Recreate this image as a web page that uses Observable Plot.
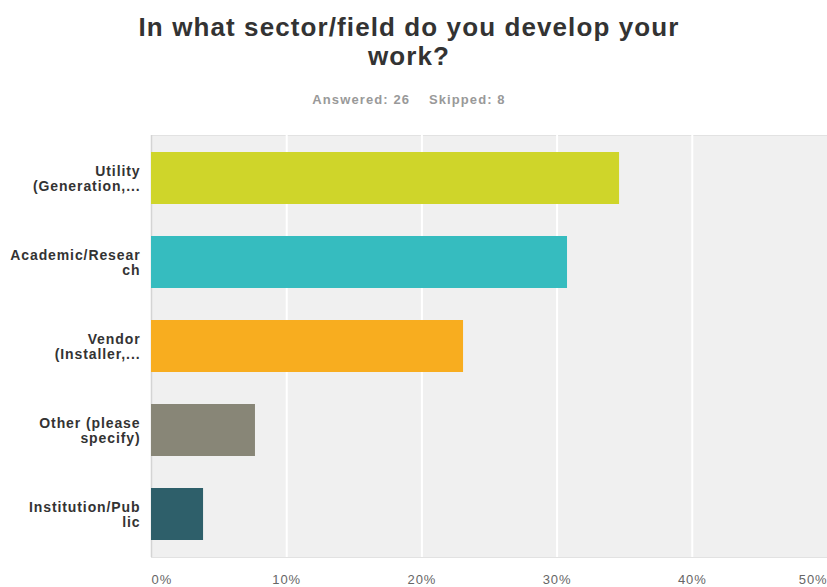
<!DOCTYPE html>
<html>
<head>
<meta charset="utf-8">
<script src="https://cdn.jsdelivr.net/npm/d3@7"></script>
<script src="https://cdn.jsdelivr.net/npm/@observablehq/plot@0.6"></script>
<style>
  html, body { margin: 0; padding: 0; background: #fff; }
  body { width: 827px; height: 587px; overflow: hidden; font-family: "Liberation Sans", Arial, sans-serif; }
  #title { position: absolute; left: 0; top: 13px; width: 818px; text-align: center; font-weight: bold; font-size: 26px; line-height: 29px; letter-spacing: 1.1px; color: #333; }
  #subtitle { position: absolute; left: 0; top: 92px; width: 818px; text-align: center; font-weight: bold; font-size: 13px; letter-spacing: 1.1px; color: #999; }
  #chart { position: absolute; left: 0; top: 120px; }
  #chart svg text { letter-spacing: 0.9px; }
</style>
</head>
<body>
<div id="title">In what sector/field do you develop your<br>work?</div>
<div id="subtitle">Answered: 26&nbsp;&nbsp;&nbsp;&nbsp;Skipped: 8</div>
<div id="chart"></div>
<script>
const categories = ["Utility", "Academic/Research", "Vendor", "Other", "Institution/Public"];
const categoryLabels = ["Utility\n(Generation,...", "Academic/Resear\nch", "Vendor\n(Installer,...", "Other (please\nspecify)", "Institution/Pub\nlic"];
const values = [34.62, 30.77, 23.08, 7.69, 3.85];
const tickValues = [0, 10, 20, 30, 40, 50];
const tickLabels = ["0%", "10%", "20%", "30%", "40%", "50%"];
const barColors = ["#cfd52a", "#36bcbf", "#f8ad1f", "#888677", "#2e5f6a"];

const data = categories.map((c, i) => ({category: c, label: categoryLabels[i], value: values[i]}));
const ticks = tickValues.map((t, i) => ({t, label: tickLabels[i]}));
const midTicks = ticks.slice(1, -1);

const plot = Plot.plot({
  width: 827,
  height: 467,
  marginLeft: 151,
  marginRight: 0,
  marginTop: 15,
  marginBottom: 30,
  x: {domain: [0, 50], axis: null},
  y: {domain: categories, axis: null, paddingInner: 0.384, paddingOuter: 0.192},
  color: {domain: categories, range: barColors},
  style: {fontFamily: "Liberation Sans, Arial, sans-serif"},
  marks: [
    Plot.frame({fill: "#f0f0f0", stroke: "#e2e2e2", strokeWidth: 1}),
    Plot.ruleX([0], {stroke: "#d4d4d4", strokeWidth: 1.5}),
    Plot.ruleX(tickValues.slice(1, -1), {stroke: "#ffffff", strokeWidth: 2}),
    Plot.barX(data, {x: "value", y: "category", fill: "category"}),
    Plot.text(data, {x: 0, y: "category", text: "label", textAnchor: "end", dx: -11,
      fontSize: 14, fontWeight: "bold", fill: "#333", lineHeight: 1.1}),
    Plot.text(midTicks, {x: "t", text: "label", frameAnchor: "bottom", dy: 26, fontSize: 13, fill: "#666"}),
    Plot.text(ticks.slice(0, 1), {x: "t", text: "label", frameAnchor: "bottom", dy: 26, textAnchor: "start", fontSize: 13, fill: "#666"}),
    Plot.text(ticks.slice(-1), {x: "t", text: "label", frameAnchor: "bottom", dy: 26, textAnchor: "end", fontSize: 13, fill: "#666"})
  ]
});
document.getElementById("chart").appendChild(plot);
</script>
</body>
</html>
